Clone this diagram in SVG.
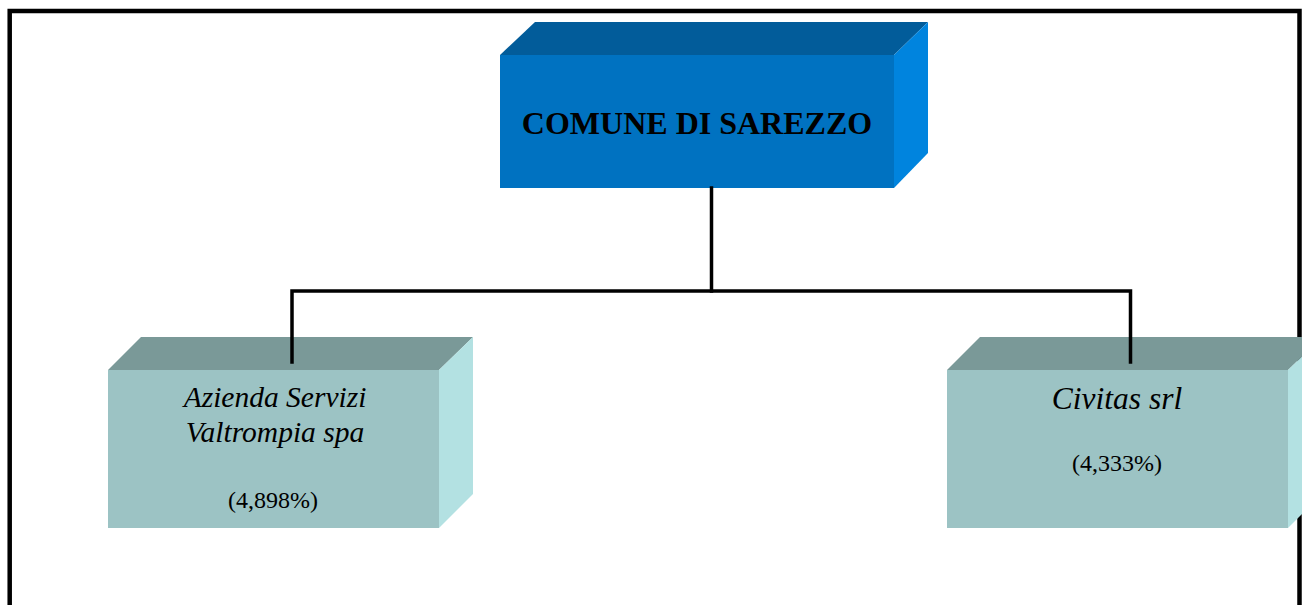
<svg xmlns="http://www.w3.org/2000/svg" width="1302" height="605" viewBox="0 0 1302 605">
  <style>
    .frame { fill: none; stroke: #000; stroke-width: 4.5; }
    .conn { fill: none; stroke: #000; stroke-width: 3.5; stroke-linecap: square; }
    .bfront { fill: #0072C1; }
    .btop { fill: #025C9A; }
    .bside { fill: #0084DE; }
    .tfront { fill: #9CC3C4; }
    .ttop { fill: #7A9998; }
    .tside { fill: #B3E1E2; }
    .title { font-family: "Liberation Serif", "Times New Roman", serif; font-weight: bold; font-size: 32px; fill: #000; text-anchor: middle; }
    .name { font-family: "Liberation Serif", "Times New Roman", serif; font-style: italic; fill: #000; text-anchor: middle; }
    .pct { font-family: "Liberation Serif", "Times New Roman", serif; font-size: 24px; fill: #000; text-anchor: middle; }
  </style>
  <rect class="frame" x="9.7" y="11" width="1289.8" height="640"/>
  <g id="node-comune">
    <polygon class="btop" points="500,55 535,22 928,22 894,55"/>
    <polygon class="bside" points="894,55 928,22 928,153 894,188"/>
    <rect class="bfront" x="500" y="55" width="394" height="133"/>
    <text class="title" x="697" y="134">COMUNE DI SAREZZO</text>
  </g>
  <g id="node-asvt">
    <polygon class="ttop" points="108,370 141,337 473,337 439,370"/>
    <polygon class="tside" points="439,370 473,337 473,494 439,528"/>
    <rect class="tfront" x="108" y="370" width="331" height="158"/>
    <text class="name" x="275" y="407" font-size="29.5">Azienda Servizi</text>
    <text class="name" x="275" y="442" font-size="29.5">Valtrompia spa</text>
    <text class="pct" x="273" y="508">(4,898%)</text>
  </g>
  <g id="node-civitas">
    <polygon class="ttop" points="947,370 980,337 1322,337 1288,370"/>
    <polygon class="tside" points="1288,370 1322,337 1322,494 1288,528"/>
    <rect class="tfront" x="947" y="370" width="341" height="158"/>
    <text class="name" x="1117" y="409" font-size="31.5">Civitas srl</text>
    <text class="pct" x="1117" y="471">(4,333%)</text>
  </g>
  <g id="connectors">
    <line class="conn" x1="711.5" y1="188" x2="711.5" y2="291"/>
    <polyline class="conn" points="292,362 292,291 1130.5,291 1130.5,362"/>
  </g>
</svg>
